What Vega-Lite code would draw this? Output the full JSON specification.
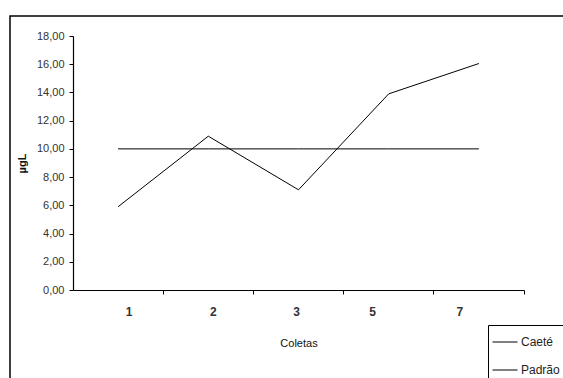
{
  "$schema": "https://vega.github.io/schema/vega-lite/v6.json",
  "width": 555,
  "height": 364,
  "autosize": {"type": "none"},
  "padding": {"left": 10, "top": 16, "right": -2, "bottom": -2},
  "background": "white",
  "config": {
    "view": {"stroke": "black", "strokeWidth": 1.5},
    "font": "Liberation Sans"
  },
  "data": {
    "values": [
      {"coleta": "1", "serie": "Caeté", "valor": 5.9},
      {"coleta": "2", "serie": "Caeté", "valor": 10.9},
      {"coleta": "3", "serie": "Caeté", "valor": 7.1},
      {"coleta": "5", "serie": "Caeté", "valor": 13.9},
      {"coleta": "7", "serie": "Caeté", "valor": 16.05},
      {"coleta": "1", "serie": "Padrão", "valor": 10},
      {"coleta": "2", "serie": "Padrão", "valor": 10},
      {"coleta": "3", "serie": "Padrão", "valor": 10},
      {"coleta": "5", "serie": "Padrão", "valor": 10},
      {"coleta": "7", "serie": "Padrão", "valor": 10}
    ]
  },
  "mark": {"type": "line", "strokeWidth": 1},
  "encoding": {
    "x": {
      "field": "coleta",
      "type": "ordinal",
      "sort": ["1", "2", "3", "5", "7"],
      "scale": {"type": "band", "range": [63, 514], "paddingInner": 0, "paddingOuter": 0},
      "axis": {
        "orient": "bottom",
        "offset": -90,
        "title": "Coletas",
        "titleFontSize": 11,
        "titleFontWeight": "normal",
        "titleColor": "#111",
        "titlePadding": 20,
        "labelAngle": 0,
        "labelFontSize": 12,
        "labelFontWeight": "bold",
        "labelColor": "#333",
        "labelPadding": 12,
        "bandPosition": 1,
        "labelOffset": {
          "condition": [
            {"test": "datum.value == '1'", "value": 11},
            {"test": "datum.value == '2'", "value": 5},
            {"test": "datum.value == '3'", "value": -2},
            {"test": "datum.value == '5'", "value": -16}
          ],
          "value": -19
        },
        "domainColor": "black",
        "domainWidth": 1.2,
        "tickColor": "black",
        "tickSize": 4,
        "grid": false
      }
    },
    "y": {
      "field": "valor",
      "type": "quantitative",
      "scale": {"domain": [0, 18], "range": [274, 20], "nice": false, "zero": true},
      "axis": {
        "orient": "left",
        "offset": -63,
        "values": [0, 2, 4, 6, 8, 10, 12, 14, 16, 18],
        "labelExpr": "replace(format(datum.value, '.2f'), '.', ',')",
        "labelFontSize": 11,
        "labelColor": "#333",
        "labelPadding": 5,
        "title": "µgL",
        "titleFontSize": 11,
        "titleFontWeight": "bold",
        "titleColor": "#111",
        "titlePadding": 9,
        "domainColor": "black",
        "domainWidth": 1.2,
        "tickColor": "black",
        "tickSize": 4,
        "grid": false
      }
    },
    "color": {
      "field": "serie",
      "type": "nominal",
      "scale": {"domain": ["Caeté", "Padrão"], "range": ["black", "black"]},
      "legend": {
        "orient": "none",
        "legendX": 478,
        "legendY": 309,
        "title": null,
        "strokeColor": "black",
        "fillColor": "white",
        "padding": 4,
        "symbolType": "stroke",
        "symbolSize": 625,
        "symbolStrokeWidth": 1,
        "rowPadding": 9,
        "labelFontSize": 12,
        "labelColor": "#222",
        "labelOffset": 3
      }
    }
  }
}
